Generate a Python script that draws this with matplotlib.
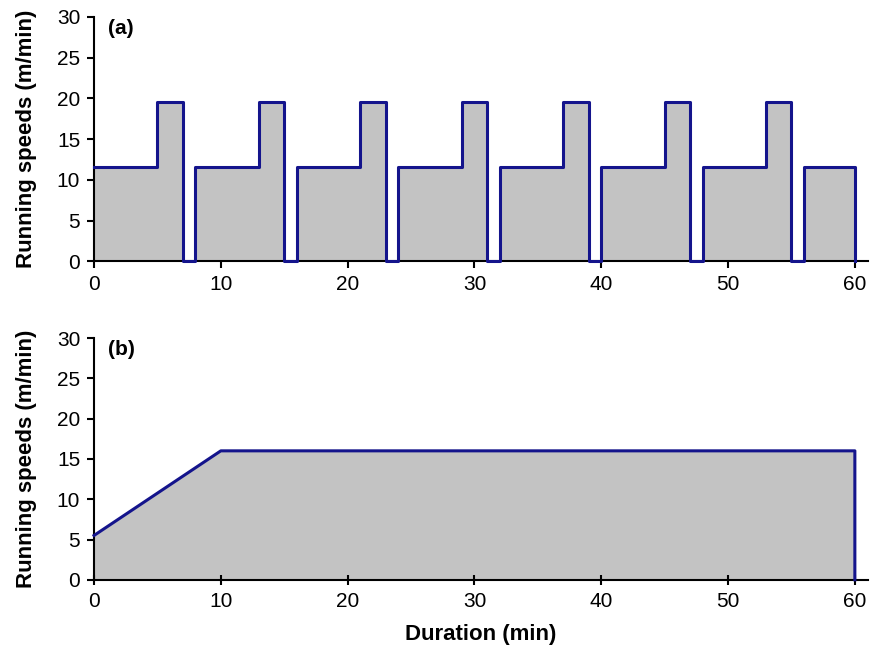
import matplotlib.pyplot as plt

plt.rcParams['font.family'] = ['Liberation Sans', 'DejaVu Sans']

# (a) interval protocol: breakpoints (min) and speed from that point on (m/min)
a_time = [0, 5, 7, 8, 13, 15, 16, 21, 23, 24, 29, 31, 32, 37, 39,
          40, 45, 47, 48, 53, 55, 56, 60]
a_speed = [11.6, 19.6, 0, 11.6, 19.6, 0, 11.6, 19.6, 0, 11.6, 19.6, 0, 11.6, 19.6, 0,
           11.6, 19.6, 0, 11.6, 19.6, 0, 11.6, 0]

# (b) continuous protocol
b_time = [0, 10, 60, 60]
b_speed = [5.5, 16, 16, 0]

x_ticks = [0, 10, 20, 30, 40, 50, 60]
y_ticks = [0, 5, 10, 15, 20, 25, 30]

line_col = '#14148c'
fill_col = '#c3c3c3'

fig = plt.figure(figsize=(8.82, 6.5), dpi=100)
ax1 = fig.add_axes([0.1066, 0.598, 0.877, 0.376])
ax2 = fig.add_axes([0.1066, 0.108, 0.877, 0.372])

ax1.fill_between(a_time, a_speed, step='post', color=fill_col, linewidth=0)
ax1.step(a_time, a_speed, where='post', color=line_col, linewidth=2.2, clip_on=False, zorder=5)

ax2.fill_between(b_time, b_speed, color=fill_col, linewidth=0)
ax2.plot(b_time, b_speed, color=line_col, linewidth=2.2, clip_on=False, zorder=5)

for ax, lab in [(ax1, '(a)'), (ax2, '(b)')]:
    ax.set_xlim(0, 61)
    ax.set_ylim(0, 30)
    ax.set_xticks(x_ticks)
    ax.set_yticks(y_ticks)
    ax.spines['top'].set_visible(False)
    ax.spines['right'].set_visible(False)
    ax.spines['left'].set_linewidth(1.5)
    ax.spines['bottom'].set_linewidth(1.5)
    ax.tick_params(axis='both', labelsize=15, width=1.5, length=5, direction='out', pad=5)
    ax.set_ylabel('Running speeds (m/min)', fontsize=16, fontweight='bold', labelpad=14)
    ax.text(1.1, 28.6, lab, fontsize=15, fontweight='bold', ha='left', va='center')

ax2.tick_params(axis='x', direction='inout', length=7)
ax2.set_xlabel('Duration (min)', fontsize=16, fontweight='bold', labelpad=10)

fig.savefig('out.png', dpi=100)
